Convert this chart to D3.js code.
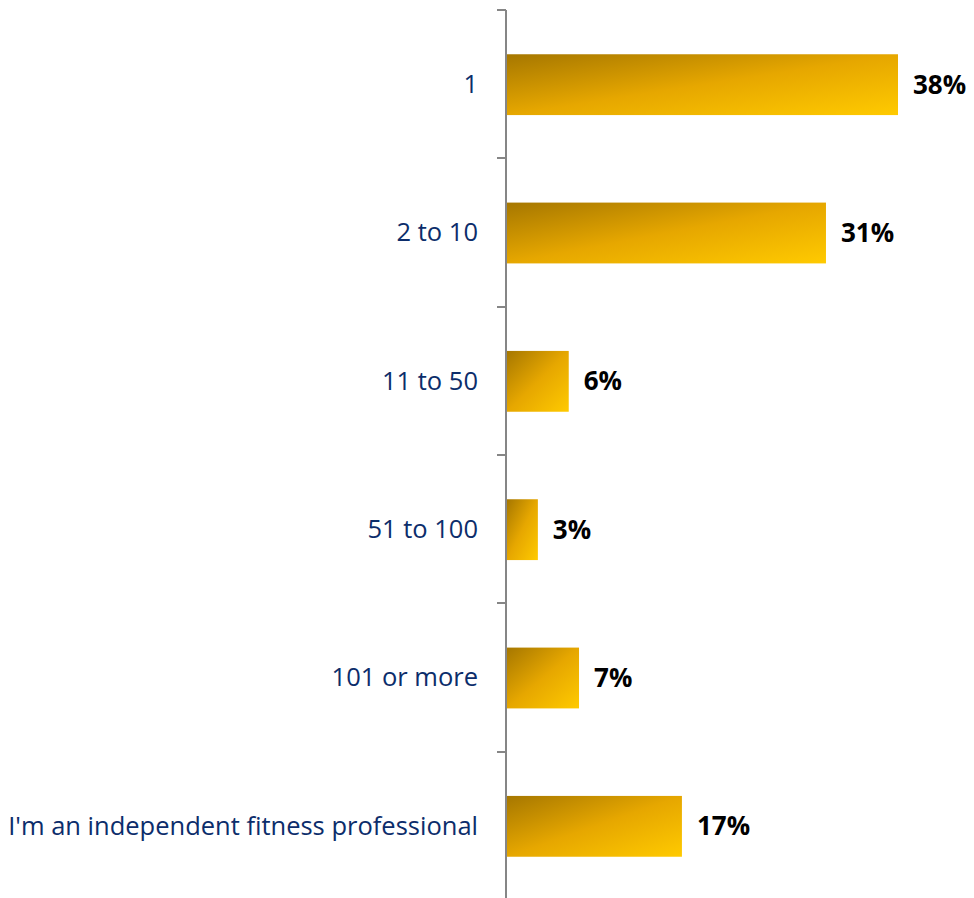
<!DOCTYPE html>
<html>
<head>
<meta charset="utf-8">
<script src="https://cdn.jsdelivr.net/npm/d3@7"></script>
<style>
  html, body { margin: 0; padding: 0; background: #fff; }
  svg { display: block; }
</style>
</head>
<body>
<svg id="chart" width="974" height="898"></svg>
<script>
// Number of employees at the respondent's organisation
const categories = ["1", "2 to 10", "11 to 50", "51 to 100", "101 or more", "I'm an independent fitness professional"];
const shares = [38, 31, 6, 3, 7, 17];
const valueLabels = ["38%", "31%", "6%", "3%", "7%", "17%"];

const svg = d3.select("#chart");

const axisX = 506;
const y = d3.scaleBand()
  .domain(categories)
  .range([10, 900])
  .paddingInner(0.59)
  .paddingOuter(0.295);

const x = d3.scaleLinear().domain([0, 38]).range([axisX + 1, 898]);

// Diagonal gold gradient applied per bar
const defs = svg.append("defs");
const grad = defs.append("linearGradient")
  .attr("id", "gold")
  .attr("x1", 0).attr("y1", 0).attr("x2", 1).attr("y2", 1);
grad.append("stop").attr("offset", "0%").attr("stop-color", "#a67700");
grad.append("stop").attr("offset", "50%").attr("stop-color", "#e6a700");
grad.append("stop").attr("offset", "100%").attr("stop-color", "#ffca00");

// Bars
svg.append("g").selectAll("rect")
  .data(categories)
  .join("rect")
  .attr("x", x(0))
  .attr("y", d => y(d) + 0.5)
  .attr("width", (d, i) => x(shares[i]) - x(0))
  .attr("height", y.bandwidth())
  .attr("fill", "url(#gold)");

// Category axis with ticks between bands
const step = y.step();
const boundaries = d3.range(categories.length).map(i => y(categories[i]) - y.paddingInner() * step / 2);
const axis = svg.append("g").attr("stroke", "#868686").attr("stroke-width", 2);
axis.append("line")
  .attr("x1", axisX).attr("x2", axisX)
  .attr("y1", 10).attr("y2", 900);
axis.selectAll("line.tick")
  .data(boundaries)
  .join("line")
  .attr("class", "tick")
  .attr("x1", axisX - 9).attr("x2", axisX)
  .attr("y1", d => Math.round(d)).attr("y2", d => Math.round(d));

// Category labels
svg.append("g").selectAll("text")
  .data(categories)
  .join("text")
  .attr("x", 478)
  .attr("y", d => y(d) + y.bandwidth() / 2)
  .attr("dy", "0.35em")
  .attr("text-anchor", "end")
  .attr("font-family", "'Open Sans', sans-serif")
  .attr("font-size", 25.5)
  .attr("fill", "#0c2d6b")
  .text(d => d);

// Value labels
svg.append("g").selectAll("text")
  .data(categories)
  .join("text")
  .attr("x", (d, i) => x(shares[i]) + 15)
  .attr("y", d => y(d) + y.bandwidth() / 2)
  .attr("dy", "0.36em")
  .attr("font-family", "'Open Sans', sans-serif")
  .attr("font-weight", "bold")
  .attr("font-size", 26)
  .attr("fill", "#000")
  .text((d, i) => valueLabels[i]);
</script>
</body>
</html>
